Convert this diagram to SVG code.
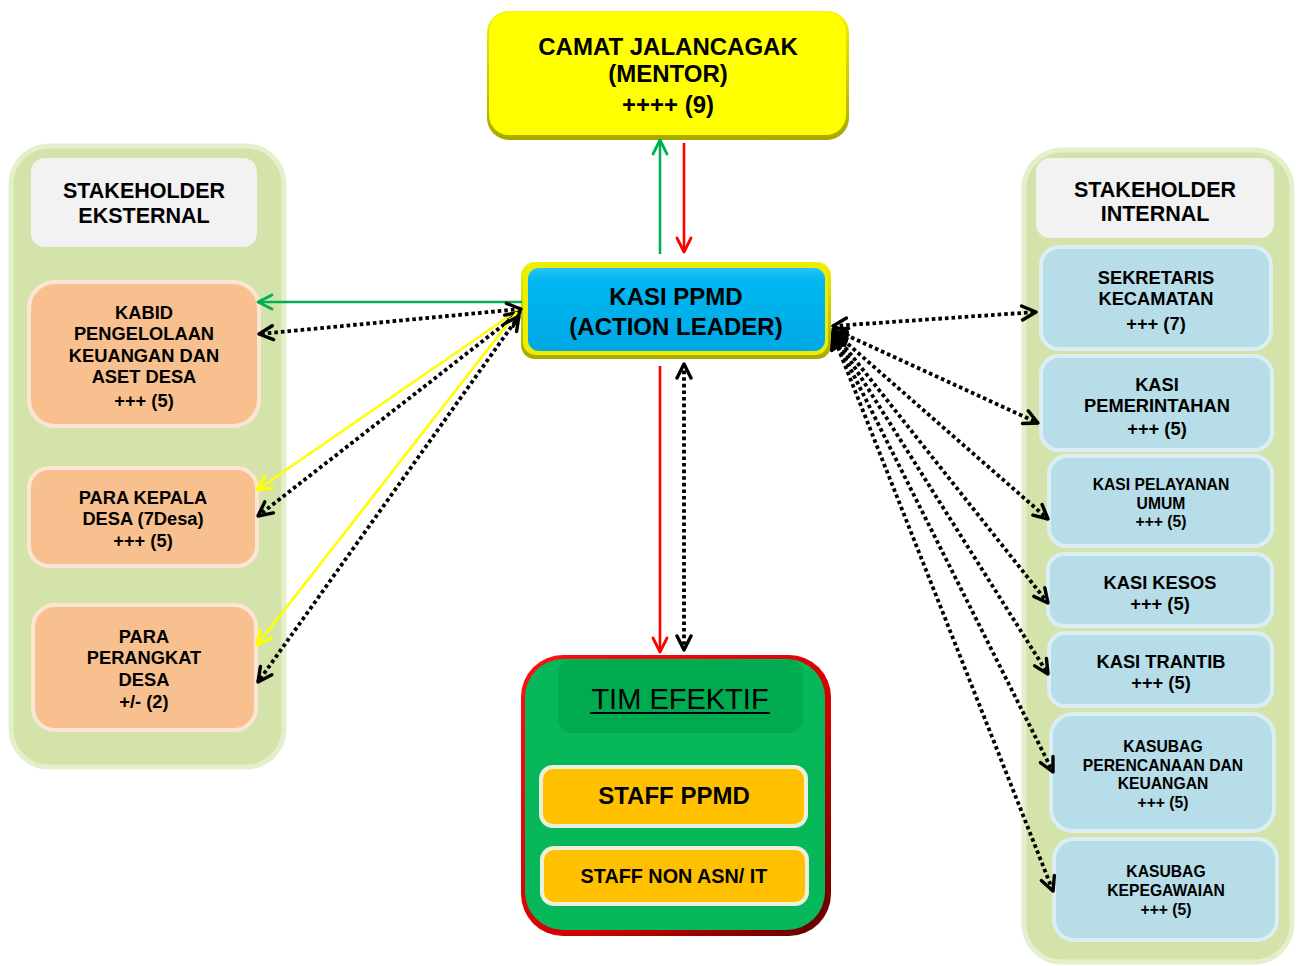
<svg xmlns="http://www.w3.org/2000/svg" width="1301" height="966" viewBox="0 0 1301 966">
  <style>
    text { font-family: "Liberation Sans", Arial, sans-serif; font-weight: bold; fill: #000; text-anchor: middle; }
    .panel { fill: #D3E3A9; stroke: #E4EFCB; stroke-width: 5; }
    .head { fill: #F2F2F2; }
    .ext { fill: #F9C08F; stroke: #FCE5D5; stroke-width: 4; }
    .int { fill: #B7DDE8; stroke: #DBEEF4; stroke-width: 4; }
    .staff { fill: #FFC000; stroke: #EBF1DE; stroke-width: 4; }
    .t24 { font-size: 24px; }
    .t21 { font-size: 21.5px; }
    .t18 { font-size: 18.3px; }
    .t15 { font-size: 15.7px; }
    .dot { fill: none; stroke: #000; stroke-width: 3.8; stroke-dasharray: 3.6 3; }
    .solid { fill: none; stroke-width: 2.6; }
  </style>
  <defs>
    <linearGradient id="yellowEdge" x1="0" y1="0" x2="0" y2="1">
      <stop offset="0" stop-color="#F2F200"/>
      <stop offset="1" stop-color="#A8A800"/>
    </linearGradient>
    <linearGradient id="blueFace" x1="0" y1="0" x2="0" y2="1">
      <stop offset="0" stop-color="#27C4F6"/>
      <stop offset="0.15" stop-color="#00B7F1"/>
      <stop offset="1" stop-color="#00A8E4"/>
    </linearGradient>
    <linearGradient id="redEdge" x1="0" y1="0" x2="1" y2="1">
      <stop offset="0" stop-color="#FF1010"/>
      <stop offset="0.6" stop-color="#D00000"/>
      <stop offset="1" stop-color="#600000"/>
    </linearGradient>
    <marker id="aBlack" viewBox="0 0 18 18" refX="16" refY="9" markerWidth="18" markerHeight="18" markerUnits="userSpaceOnUse" orient="auto-start-reverse">
      <path d="M2,2 L16,9 L2,16" fill="none" stroke="#000" stroke-width="3.4" stroke-linecap="round" stroke-linejoin="round"/>
    </marker>
    <marker id="aGreen" viewBox="0 0 18 18" refX="16" refY="9" markerWidth="18" markerHeight="18" markerUnits="userSpaceOnUse" orient="auto-start-reverse">
      <path d="M2,2 L16,9 L2,16" fill="none" stroke="#00B050" stroke-width="2.8" stroke-linecap="round" stroke-linejoin="round"/>
    </marker>
    <marker id="aRed" viewBox="0 0 18 18" refX="16" refY="9" markerWidth="18" markerHeight="18" markerUnits="userSpaceOnUse" orient="auto-start-reverse">
      <path d="M2,2 L16,9 L2,16" fill="none" stroke="#FF0000" stroke-width="2.8" stroke-linecap="round" stroke-linejoin="round"/>
    </marker>
    <marker id="aYellow" viewBox="0 0 18 18" refX="16" refY="9" markerWidth="18" markerHeight="18" markerUnits="userSpaceOnUse" orient="auto-start-reverse">
      <path d="M2,2 L16,9 L2,16" fill="none" stroke="#FFFF00" stroke-width="3" stroke-linecap="round" stroke-linejoin="round"/>
    </marker>
  </defs>

  <rect width="1301" height="966" fill="#FFFFFF"/>

  <!-- external stakeholder column -->
  <g id="panel-eksternal">
    <rect class="panel" x="11" y="146" width="273" height="621" rx="38"/>
    <rect class="head" x="31" y="158" width="226" height="89" rx="14"/>
    <text class="t21" x="144" y="198">STAKEHOLDER</text>
    <text class="t21" x="144" y="223">EKSTERNAL</text>
  </g>
  <g id="node-kabid">
    <rect class="ext" x="29" y="282" width="230" height="144" rx="26"/>
    <text class="t18" x="144" y="318.5">KABID</text>
    <text class="t18" x="144" y="339.5">PENGELOLAAN</text>
    <text class="t18" x="144" y="361.5">KEUANGAN DAN</text>
    <text class="t18" x="144" y="382.5">ASET DESA</text>
    <text class="t18" x="144" y="406.5">+++ (5)</text>
  </g>
  <g id="node-kepala-desa">
    <rect class="ext" x="29" y="468" width="228" height="98" rx="20"/>
    <text class="t18" x="143" y="503.5">PARA KEPALA</text>
    <text class="t18" x="143" y="524.5">DESA (7Desa)</text>
    <text class="t18" x="143" y="546.5">+++ (5)</text>
  </g>
  <g id="node-perangkat-desa">
    <rect class="ext" x="33" y="605" width="223" height="125" rx="22"/>
    <text class="t18" x="144" y="642.5">PARA</text>
    <text class="t18" x="144" y="663.5">PERANGKAT</text>
    <text class="t18" x="144" y="685.5">DESA</text>
    <text class="t18" x="144" y="707.5">+/- (2)</text>
  </g>

  <!-- internal stakeholder column -->
  <g id="panel-internal">
    <rect class="panel" x="1024" y="150" width="268" height="812" rx="38"/>
    <rect class="head" x="1036" y="158" width="238" height="80" rx="14"/>
    <text class="t21" x="1155" y="196.5">STAKEHOLDER</text>
    <text class="t21" x="1155" y="220.5">INTERNAL</text>
  </g>
  <g id="node-sekretaris">
    <rect class="int" x="1041" y="247" width="230" height="102" rx="18"/>
    <text class="t18" x="1156" y="283.5">SEKRETARIS</text>
    <text class="t18" x="1156" y="304.5">KECAMATAN</text>
    <text class="t18" x="1156" y="329.5">+++ (7)</text>
  </g>
  <g id="node-pemerintahan">
    <rect class="int" x="1041" y="356" width="231" height="94" rx="18"/>
    <text class="t18" x="1157" y="390.5">KASI</text>
    <text class="t18" x="1157" y="411.5">PEMERINTAHAN</text>
    <text class="t18" x="1157" y="434.5">+++ (5)</text>
  </g>
  <g id="node-pelayanan">
    <rect class="int" x="1049" y="456" width="223" height="90" rx="18"/>
    <text class="t15" x="1161" y="489.5">KASI PELAYANAN</text>
    <text class="t15" x="1161" y="508.5">UMUM</text>
    <text class="t15" x="1161" y="526.5">+++ (5)</text>
  </g>
  <g id="node-kesos">
    <rect class="int" x="1048" y="554" width="224" height="72" rx="16"/>
    <text class="t18" x="1160" y="588.5">KASI KESOS</text>
    <text class="t18" x="1160" y="609.5">+++ (5)</text>
  </g>
  <g id="node-trantib">
    <rect class="int" x="1049" y="633" width="223" height="73" rx="16"/>
    <text class="t18" x="1161" y="667.5">KASI TRANTIB</text>
    <text class="t18" x="1161" y="688.5">+++ (5)</text>
  </g>
  <g id="node-perencanaan">
    <rect class="int" x="1051" y="714" width="223" height="117" rx="22"/>
    <text class="t15" x="1163" y="751.5">KASUBAG</text>
    <text class="t15" x="1163" y="770.5">PERENCANAAN DAN</text>
    <text class="t15" x="1163" y="788.5">KEUANGAN</text>
    <text class="t15" x="1163" y="807.5">+++ (5)</text>
  </g>
  <g id="node-kepegawaian">
    <rect class="int" x="1054" y="839" width="223" height="101" rx="20"/>
    <text class="t15" x="1166" y="876.5">KASUBAG</text>
    <text class="t15" x="1166" y="895.5">KEPEGAWAIAN</text>
    <text class="t15" x="1166" y="914.5">+++ (5)</text>
  </g>

  <!-- mentor -->
  <g id="node-camat">
    <rect x="487" y="11" width="362" height="129" rx="22" fill="url(#yellowEdge)"/>
    <rect x="489" y="12" width="357" height="123" rx="20" fill="#FFFF00"/>
    <text class="t24" x="668" y="55">CAMAT JALANCAGAK</text>
    <text class="t24" x="668" y="82">(MENTOR)</text>
    <text class="t24" x="668" y="113">++++ (9)</text>
  </g>

  <!-- action leader -->
  <g id="node-kasi-ppmd">
    <rect x="521" y="262" width="310" height="97" rx="14" fill="url(#yellowEdge)"/>
    <rect x="523" y="263" width="305" height="92" rx="13" fill="#EDED00"/>
    <rect x="528" y="268" width="297" height="83" rx="11" fill="url(#blueFace)"/>
    <text class="t24" x="676" y="305">KASI PPMD</text>
    <text class="t24" x="676" y="335">(ACTION LEADER)</text>
  </g>

  <!-- team -->
  <g id="node-tim-efektif">
    <rect x="521" y="655" width="310" height="281" rx="42" fill="url(#redEdge)"/>
    <rect x="525" y="659" width="300" height="271" rx="38" fill="#07B85A"/>
    <rect x="558" y="660" width="245" height="73" rx="14" fill="#00AA50"/>
    <text x="680" y="709" font-size="29" style="font-weight:normal">TIM EFEKTIF</text>
    <rect x="590" y="712" width="180" height="2" fill="#000"/>
    <rect class="staff" x="541" y="767" width="265" height="59" rx="12"/>
    <text class="t24" x="674" y="804">STAFF PPMD</text>
    <rect class="staff" x="542" y="848" width="265" height="56" rx="12"/>
    <text x="674" y="883" font-size="19.8">STAFF NON ASN/ IT</text>
  </g>

  <!-- connectors -->
  <g id="connectors">
    <!-- mentor link -->
    <line class="solid" x1="660" y1="254" x2="660" y2="140" stroke="#00B050" marker-end="url(#aGreen)"/>
    <line class="solid" x1="684" y1="143" x2="684" y2="252" stroke="#FF0000" stroke-width="3" marker-end="url(#aRed)"/>
    <!-- team link -->
    <line class="solid" x1="660" y1="366" x2="660" y2="652" stroke="#FF0000" marker-end="url(#aRed)"/>
    <line class="dot" x1="684" y1="364" x2="684" y2="650" marker-start="url(#aBlack)" marker-end="url(#aBlack)"/>

    <!-- external stakeholders -->
    <line class="solid" x1="522" y1="302" x2="258" y2="302" stroke="#00B050" stroke-width="3" marker-end="url(#aGreen)"/>
    <line class="dot" x1="521" y1="309" x2="259" y2="334" marker-start="url(#aBlack)" marker-end="url(#aBlack)"/>
    <line class="solid" x1="518" y1="310" x2="257" y2="490" stroke="#FFFF00" stroke-width="3" marker-end="url(#aYellow)"/>
    <line class="dot" x1="520" y1="312" x2="258" y2="516" marker-start="url(#aBlack)" marker-end="url(#aBlack)"/>
    <line class="solid" x1="517" y1="312" x2="257" y2="645" stroke="#FFFF00" stroke-width="3" marker-end="url(#aYellow)"/>
    <line class="dot" x1="519" y1="316" x2="258" y2="682" marker-start="url(#aBlack)" marker-end="url(#aBlack)"/>

    <!-- internal stakeholders -->
    <line class="dot" x1="833" y1="326" x2="1036" y2="312" marker-start="url(#aBlack)" marker-end="url(#aBlack)"/>
    <line class="dot" x1="833" y1="329" x2="1038" y2="423" marker-start="url(#aBlack)" marker-end="url(#aBlack)"/>
    <line class="dot" x1="833" y1="331" x2="1048" y2="519" marker-start="url(#aBlack)" marker-end="url(#aBlack)"/>
    <line class="dot" x1="833" y1="332" x2="1048" y2="603" marker-start="url(#aBlack)" marker-end="url(#aBlack)"/>
    <line class="dot" x1="833" y1="333" x2="1048" y2="674" marker-start="url(#aBlack)" marker-end="url(#aBlack)"/>
    <line class="dot" x1="833" y1="334" x2="1053" y2="772" marker-start="url(#aBlack)" marker-end="url(#aBlack)"/>
    <line class="dot" x1="833" y1="335" x2="1053" y2="891" marker-start="url(#aBlack)" marker-end="url(#aBlack)"/>
  </g>
</svg>
